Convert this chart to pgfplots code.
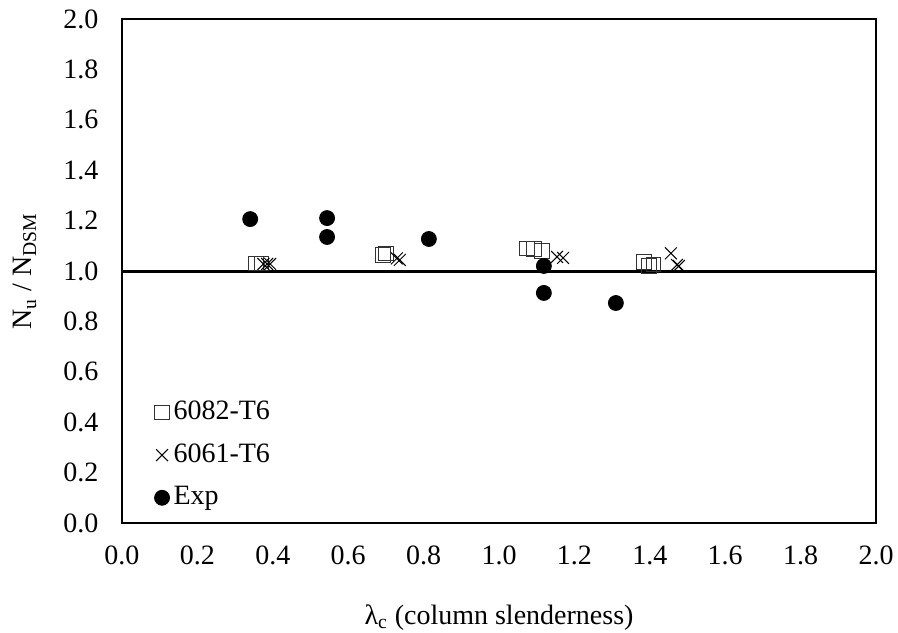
\documentclass[border=0pt]{standalone}
\usepackage{pgfplots}
\pgfplotsset{compat=1.18}
\usepackage{fontspec}
\setmainfont{Liberation Serif}
\begin{document}
\fontsize{14}{16}\selectfont
\begin{tikzpicture}
\path[use as bounding box] (-61pt,-54.5pt) rectangle (388pt,261.5pt);
\begin{axis}[
  at={(0,0)}, anchor=south west,
  scale only axis, width=377pt, height=252pt,
  xmin=0, xmax=2, ymin=0, ymax=2,
  xtick={0,0.2,...,2.0}, ytick={0,0.2,...,2.0},
  major tick length=0pt,
  /pgf/number format/assume math mode=true,
  /pgf/number format/.cd, fixed, fixed zerofill, precision=1, /pgfplots/.cd,
  ticklabel style={font=\fontsize{14}{16}\selectfont},
  xticklabel style={yshift=-6.5pt},
  yticklabel style={xshift=-7pt},
  axis line style={black, line width=0.6pt},
  xlabel={λ\textsubscript{c} (column slenderness)},
  ylabel={N\textsubscript{u} / N\textsubscript{DSM}},
  xlabel style={at={(0.5,0)}, anchor=north, yshift=-36pt, font=\fontsize{14}{16}\selectfont},
  ylabel style={at={(0,0.5)}, anchor=south, xshift=0pt, yshift=38pt, font=\fontsize{14}{16}\selectfont},
  legend style={draw=none, fill=none, at={(0.04,0.255)}, anchor=north west, font=\fontsize{14}{16}\selectfont, row sep=6pt, inner sep=1pt},
  legend cell align=left,
  clip=false,
]
\addplot[black, line width=1.5pt, forget plot] coordinates {(0,1) (2,1)};
\addplot[only marks, mark=square, mark size=3.6pt, mark options={draw=black!80, line width=0.5pt}] coordinates {
(0.355,1.03) (0.37,1.03)
(0.692,1.063) (0.70,1.07)
(1.074,1.09) (1.093,1.087) (1.114,1.08)
(1.385,1.036) (1.398,1.02) (1.41,1.025)
};
\addlegendentry{6082-T6}
\addplot[only marks, mark=x, mark size=4.2pt, mark options={draw=black, line width=0.5pt}] coordinates {
(0.375,1.028) (0.385,1.028) (0.393,1.028)
(0.729,1.05) (0.737,1.044)
(1.154,1.056) (1.17,1.052)
(1.456,1.07) (1.472,1.024) (1.477,1.02)
};
\addlegendentry{6061-T6}
\addplot[only marks, mark=*, mark size=3.75pt, mark options={fill=black, draw=black}] coordinates {
(0.34,1.206) (0.544,1.21) (0.544,1.135) (0.814,1.127)
(1.119,1.02) (1.119,0.913) (1.31,0.873)
};
\addlegendentry{Exp}
\end{axis}
\end{tikzpicture}
\end{document}
